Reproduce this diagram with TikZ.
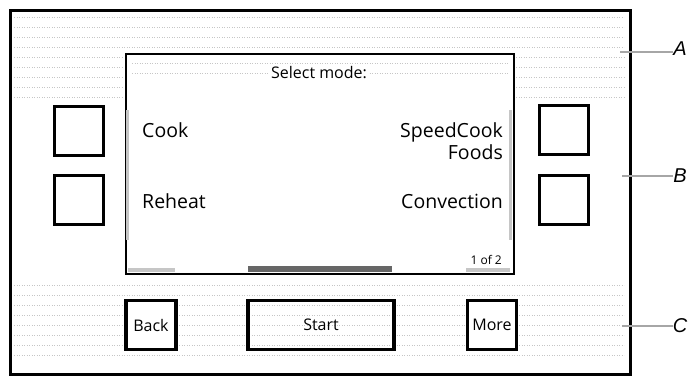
\documentclass[tikz,border=0pt]{standalone}
\usepackage{fontspec}
\setmainfont{Open Sans}
\newfontfamily\labelfont{Liberation Sans}
\usepackage{tikz}
\usetikzlibrary{positioning}

\tikzset{
	panel/.style={draw, line width=3pt},
	hardkey/.style={draw, line width=3.5pt, fill=white},
	screentext/.style={font=\fontsize{19.5}{22}\selectfont, inner sep=0pt},
	stipple/.style={draw=gray!45, line width=0.5pt, dotted},
	edgemark/.style={fill=gray!45},
	leader/.style={draw=gray!70, line width=1.2pt},
	refmark/.style={font=\labelfont\itshape\fontsize{20}{22}\selectfont, inner sep=0pt}
}

\begin{document}
\begin{tikzpicture}[x=1pt, y=-1pt]
		\useasboundingbox (0,0) rectangle (695,377);
		% stippled shading, top and bottom bands
		\foreach \yy in {17,27,...,47}
		\draw[stipple] (14,\yy) -- (624,\yy);
		\foreach \yy in {57,67,...,97}
		{\draw[stipple] (14,\yy) -- (122,\yy);
			\draw[stipple] (516,\yy) -- (624,\yy);}
		\foreach \yy in {285,295,...,355}
		\draw[stipple] (14,\yy) -- (624,\yy);
		% housing and display
		\node[panel, minimum width=620pt, minimum height=364pt, anchor=north west] (frame) at (9,9) {};
		\node[draw, line width=2pt, fill=white, minimum width=388pt, minimum height=220pt, anchor=north west] (screen) at (125,53) {};
		\foreach \yy in {63,73}
		\draw[stipple] (132,\yy) -- (508,\yy);
		\fill[edgemark] (126,110) rectangle (129,240);
		\fill[edgemark] (509,110) rectangle (512,240);
		\fill[edgemark] (128,268) rectangle (175,272);
		\fill[gray!80!black] (248,266) rectangle (392,272);
		\fill[edgemark] (466,268) rectangle (510,272);
		% screen texts
		\node[fill=white, inner sep=2pt, font=\fontsize{16}{18}\selectfont] (title) at (319,73) {Select mode:};
		\node[screentext, anchor=base west] (cook) at (142,137) {Cook};
		\node[screentext, anchor=base east] (speed) at (503,137) {SpeedCook};
		\node[screentext, anchor=base east] (foods) at (503,159) {Foods};
		\node[screentext, anchor=base west] (reheat) at (142,208) {Reheat};
		\node[screentext, anchor=base east] (convect) at (503,208) {Convection};
		\node[inner sep=0pt, anchor=base east, font=\fontsize{12}{14}\selectfont] (page) at (502,264) {1 of 2};
		% side keys
		\node[hardkey, minimum width=49pt, minimum height=49pt] (lkeya) at (79,131) {};
		\node[hardkey, minimum width=49pt, minimum height=49pt] (lkeyb) at (79,200) {};
		\node[hardkey, minimum width=49pt, minimum height=49pt] (rkeya) at (564,130) {};
		\node[hardkey, minimum width=49pt, minimum height=49pt] (rkeyb) at (564,200) {};
		% bottom keys
		\node[hardkey, minimum width=50pt, minimum height=49pt, font=\fontsize{16}{18}\selectfont] (back) at (151,325) {Back};
		\node[draw, line width=3.5pt, minimum width=146pt, minimum height=49pt, font=\fontsize{16}{18}\selectfont] (start) at (321,325) {Start};
		\node[hardkey, minimum width=49pt, minimum height=49pt, font=\fontsize{16}{18}\selectfont] (more) at (492,325) {More};
		% reference letters
		\node[refmark] (markA) at (680,49) {A};
		\node[refmark] (markB) at (680,176) {B};
		\node[refmark] (markC) at (680,326) {C};
		\coordinate (tipA) at (620,52);
		\coordinate (tipB) at (622,176);
		\coordinate (tipC) at (622,326);
		\draw[leader] (tipA) -- (markA.west |- tipA);
		\draw[leader] (tipB) -- (markB.west |- tipB);
		\draw[leader] (tipC) -- (markC.west |- tipC);
\end{tikzpicture}
\end{document}
